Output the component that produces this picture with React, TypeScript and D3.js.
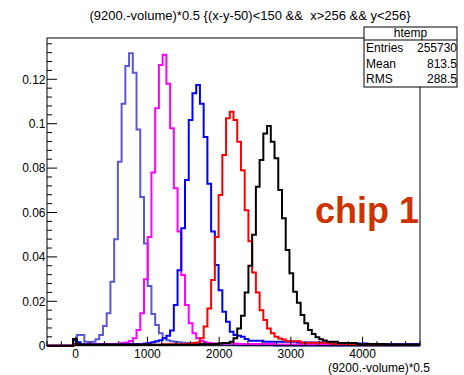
import React from "react";
import * as d3 from "d3";

// ---------- data (100 bins from -400 to 4800, width 52) ----------
const X_MIN = -400;
const X_MAX = 4800;
const N_BINS = 100;
const Y_MAX = 0.1386;

const xMajorTicks = [0, 1000, 2000, 3000, 4000];
const yMajorTicks = [0, 0.02, 0.04, 0.06, 0.08, 0.1, 0.12];
const yTickLabels = ["0", "0.02", "0.04", "0.06", "0.08", "0.1", "0.12"];

function fill(n: number, v: number): number[] {
  return new Array(n).fill(v);
}

// bins 0..99
const purple: number[] = [
  0, 0, 0, 0, 0, 0, 0,
  0.003, 0.0048, 0.0048, 0.0018, 0.0014, 0.0018, 0.0029, 0.0048, 0.0089, 0.0146,
  0.0288, 0.0479, 0.0829, 0.109, 0.126, 0.1317, 0.123, 0.0974, 0.067, 0.046,
  0.0269, 0.0143, 0.0093, 0.0056, 0.0035, 0.0025, 0.002, 0.0018, 0.0015, 0.0013,
  0.0012, 0.001, 0.0009, 0.0008,
  ...fill(5, 0.0006), ...fill(5, 0.0004), ...fill(10, 0.0002), ...fill(39, 0),
];

const magenta: number[] = [
  0, 0, 0, 0, 0, 0, 0,
  ...fill(8, 0.0005), ...fill(4, 0.0008),
  0.001, 0.0012, 0.0014, 0.0021, 0.0033, 0.0071, 0.0146, 0.0299, 0.049, 0.078,
  0.107, 0.1264, 0.131, 0.118, 0.098, 0.0709, 0.0514, 0.0318, 0.0183, 0.0101,
  0.0056, 0.0033, 0.0021, 0.0015, 0.0012,
  ...fill(7, 0.001), ...fill(10, 0.0008), ...fill(39, 0.0005),
];

const blue: number[] = [
  0, 0, 0, 0, 0, 0, 0,
  0.0025, 0.0015, ...fill(12, 0.0006), ...fill(5, 0.0008),
  0.001, 0.0012, 0.0015, 0.002, 0.0025, 0.0033, 0.0045, 0.0068, 0.0183, 0.034,
  0.0529, 0.0746, 0.1017, 0.1137, 0.1174, 0.109, 0.094, 0.073, 0.0514, 0.0363,
  0.025, 0.0153, 0.0108, 0.0063, 0.0048, 0.0045, 0.004, 0.003,
  ...fill(4, 0.0022), ...fill(9, 0.0018), ...fill(9, 0.0014), ...fill(10, 0.001),
  ...fill(14, 0.0006),
];

const red: number[] = [
  0, 0, 0, 0, 0, 0, 0,
  0.0008, ...fill(23, 0.0004), ...fill(6, 0.0006),
  0.0008, 0.001, 0.0012, 0.0014, 0.0033, 0.0086, 0.0168, 0.0296, 0.049, 0.0679,
  0.0859, 0.1024, 0.1054, 0.1017, 0.0919, 0.079, 0.061, 0.047, 0.033, 0.024,
  0.016, 0.0116, 0.0078, 0.0056, 0.004, 0.0032, 0.0028,
  ...fill(4, 0.002), ...fill(8, 0.0013), ...fill(5, 0.0009), ...fill(5, 0.0006),
  ...fill(14, 0.0003),
];

const black: number[] = [
  0, 0, 0, 0, 0, 0, 0,
  0.003, 0.0008, ...fill(32, 0.0004), ...fill(4, 0.0006),
  0.0008, 0.001, 0.0012, 0.0012, 0.0018, 0.0033, 0.0078, 0.0135, 0.024, 0.036,
  0.05, 0.0716, 0.0836, 0.0956, 0.099, 0.0919, 0.0844, 0.0701, 0.0574, 0.0431,
  0.0326, 0.0243, 0.0194, 0.0138, 0.0101, 0.0071, 0.0053, 0.0038, 0.0029, 0.0023,
  ...fill(3, 0.0018), ...fill(5, 0.0012), ...fill(8, 0.0008), ...fill(9, 0.0005),
];

const seriesNames = ["chip-a", "chip-b", "chip-c", "chip-d", "chip-e"];
const seriesValues = [purple, magenta, blue, red, black];
const seriesColors = ["#5b57d9", "#ff00ff", "#0000ff", "#ff0000", "#000000"];

const titleText = "(9200.-volume)*0.5 {(x-y-50)<150 &&  x>256 && y<256}";
const xTitle = "(9200.-volume)*0.5";
const statsName = "htemp";
const statsRows = [
  ["Entries", "255730"],
  ["Mean", "813.5"],
  ["RMS", "288.5"],
];
const annotation = "chip 1";

// ---------- layout ----------
const W = 464;
const H = 375;
const frame = { left: 47, right: 420, top: 38, bottom: 345.7 };
const FONT = "'Liberation Sans', Arial, Helvetica, sans-serif";

export default function App() {
  const x = d3.scaleLinear().domain([X_MIN, X_MAX]).range([frame.left, frame.right]);
  const y = d3.scaleLinear().domain([0, Y_MAX]).range([frame.bottom, frame.top]);
  const binW = (X_MAX - X_MIN) / N_BINS;

  const histPath = (vals: number[]) => {
    const p = d3.path();
    p.moveTo(x(X_MIN), y(0));
    vals.forEach((v, i) => {
      p.lineTo(x(X_MIN + i * binW), y(v));
      p.lineTo(x(X_MIN + (i + 1) * binW), y(v));
    });
    p.lineTo(x(X_MAX), y(0));
    return p.toString();
  };

  const xMinor = d3.range(X_MIN, X_MAX + 1, 200);
  const yMinor = d3.range(0, Y_MAX, 0.004);

  return (
    <svg
      width={W}
      height={H}
      style={{ position: "absolute", left: 0, top: 0, background: "#fff" }}
      fontFamily={FONT}
    >
      <defs>
        <clipPath id="frameClip">
          <rect x={frame.left} y={frame.top} width={frame.right - frame.left} height={frame.bottom - frame.top + 2} />
        </clipPath>
      </defs>
      <rect x={0} y={0} width={W} height={H} fill="#fff" />

      <text x={250} y={19.5} fontSize={13} textAnchor="middle" fill="#000" style={{ whiteSpace: "pre" }}>
        {titleText}
      </text>

      {/* histograms */}
      <g clipPath="url(#frameClip)">
        {seriesValues.map((vals, i) => (
          <path
            key={seriesNames[i]}
            d={histPath(vals)}
            fill="none"
            stroke={seriesColors[i]}
            strokeWidth={2}
            strokeLinejoin="miter"
          />
        ))}
      </g>

      {/* frame */}
      <rect
        x={frame.left}
        y={frame.top}
        width={frame.right - frame.left}
        height={frame.bottom - frame.top}
        fill="none"
        stroke="#000"
        strokeWidth={1}
      />

      {/* y ticks */}
      {yMinor.map((v, i) => {
        const major = yMajorTicks.some((t) => Math.abs(t - v) < 1e-9);
        return (
          <line
            key={"ym" + i}
            x1={frame.left}
            x2={frame.left + (major ? 10 : 5)}
            y1={y(v)}
            y2={y(v)}
            stroke="#000"
            strokeWidth={1}
          />
        );
      })}
      {yMajorTicks.map((v, i) => (
        <text key={"yl" + i} x={45.5} y={y(v)} dy="0.36em" fontSize={12} textAnchor="end" fill="#000">
          {yTickLabels[i]}
        </text>
      ))}

      {/* x ticks */}
      {xMinor.map((v, i) => {
        const major = xMajorTicks.includes(v);
        return (
          <line
            key={"xm" + i}
            x1={x(v)}
            x2={x(v)}
            y1={frame.bottom}
            y2={frame.bottom - (major ? 9 : 4.5)}
            stroke="#000"
            strokeWidth={1}
          />
        );
      })}
      {xMajorTicks.map((v) => (
        <text key={"xl" + v} x={x(v)} y={358} fontSize={12} textAnchor="middle" fill="#000">
          {v}
        </text>
      ))}
      <text x={430} y={372} fontSize={12} textAnchor="end" fill="#000">
        {xTitle}
      </text>

      {/* stats box */}
      <rect x={364} y={27} width={93} height={60} fill="#fff" stroke="#000" strokeWidth={1} />
      <line x1={364} x2={457} y1={40} y2={40} stroke="#000" strokeWidth={1} />
      <text x={410.5} y={37} fontSize={12} textAnchor="middle" fill="#000">
        {statsName}
      </text>
      {statsRows.map((r, i) => (
        <g key={r[0]}>
          <text x={366} y={52 + i * 15.7} fontSize={12} fill="#000">
            {r[0]}
          </text>
          <text x={457} y={52 + i * 15.7} fontSize={12} textAnchor="end" fill="#000">
            {r[1]}
          </text>
        </g>
      ))}

      <text x={315} y={223} fontSize={36} fontWeight="bold" fill="#cc3300">
        {annotation}
      </text>
    </svg>
  );
}
